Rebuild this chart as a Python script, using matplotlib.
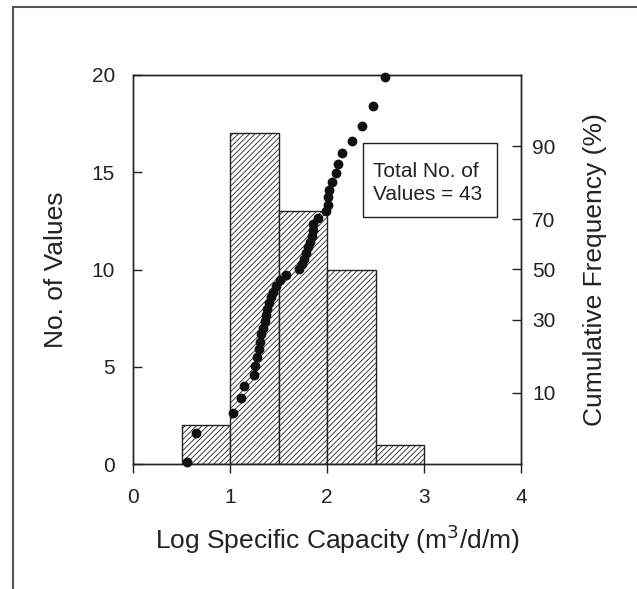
import numpy as np
import matplotlib
matplotlib.use("Agg")
import matplotlib.pyplot as plt
from matplotlib.patches import Rectangle
from statistics import NormalDist

# ---- data ----
bin_edges = [0.5, 1.0, 1.5, 2.0, 2.5]
counts = [2, 17, 13, 10, 1]
bin_width = 0.5

log_sc = [0.553, 0.65, 1.03, 1.11, 1.14, 1.25, 1.26, 1.275, 1.302, 1.313,
          1.323, 1.344, 1.361, 1.371, 1.385, 1.402, 1.419, 1.440, 1.474, 1.515,
          1.574, 1.715, 1.739, 1.763, 1.784, 1.808, 1.825, 1.842, 1.852, 1.859,
          1.911, 1.990, 2.007, 2.014, 2.024, 2.055, 2.090, 2.117, 2.151, 2.254,
          2.357, 2.478, 2.598]
cum_freq = [2.3, 4.5, 6.8, 9.1, 11.4, 13.6, 15.9, 18.2, 20.5, 22.7,
            25.0, 27.3, 29.5, 31.8, 34.1, 36.4, 38.6, 40.9, 43.2, 45.5,
            47.7, 50.0, 52.3, 54.5, 56.8, 59.1, 61.4, 63.6, 65.9, 68.2,
            70.5, 72.7, 75.0, 77.3, 79.5, 81.8, 84.1, 86.4, 88.6, 90.9,
            93.2, 95.5, 97.7]

x_ticks = [0, 1, 2, 3, 4]
y_ticks = [0, 5, 10, 15, 20]
cf_ticks = [10, 30, 50, 70, 90]

plt.rcParams['font.family'] = ['Liberation Sans', 'DejaVu Sans']
plt.rcParams['hatch.linewidth'] = 0.6
TXT = '#222222'

fig = plt.figure(figsize=(6.37, 5.89), dpi=100)
# outer frame lines (top and left)
fig.add_artist(plt.Line2D([13/637, 13/637], [0, 1 - 7/589], transform=fig.transFigure,
                          color='#555555', lw=1.5))
fig.add_artist(plt.Line2D([13/637, 1], [1 - 7/589, 1 - 7/589], transform=fig.transFigure,
                          color='#555555', lw=1.5))

ax = fig.add_axes([133/637, 1 - 464/589, (521 - 133)/637, (464 - 75)/589])
ax.bar(bin_edges, counts, width=bin_width, align='edge', facecolor='white',
       edgecolor='#222222', hatch='//////', linewidth=1.0, zorder=2)
ax.set_xlim(0, 4)
ax.set_ylim(0, 20)
ax.set_xticks(x_ticks)
ax.set_yticks(y_ticks)
ax.tick_params(axis='y', direction='in', length=6.5, width=1, pad=13,
               labelsize=15, colors=TXT)
ax.tick_params(axis='x', direction='out', length=6.5, width=1, pad=11,
               labelsize=15, colors=TXT)
for s in ax.spines.values():
    s.set_color('#222222')
    s.set_linewidth(1.0)
ax.set_xlabel('Log Specific Capacity (m$^3$/d/m)', fontsize=19, color=TXT, labelpad=11)
ax.xaxis.label.set_x(0.527)
ax.set_ylabel('No. of Values', fontsize=19, color=TXT, labelpad=17)

nd = NormalDist()
fwd = np.vectorize(lambda p: nd.inv_cdf(min(max(p / 100.0, 1e-9), 1 - 1e-9)),
                   otypes=[float])
inv = np.vectorize(lambda z: nd.cdf(z) * 100.0, otypes=[float])

ax2 = ax.twinx()
ax2.set_yscale('function', functions=(fwd, inv))
zlim = 2.02
ax2.set_ylim(nd.cdf(-zlim) * 100, nd.cdf(zlim) * 100)
ax2.set_yticks(cf_ticks)
ax2.set_yticklabels([str(t) for t in cf_ticks])
ax2.yaxis.set_minor_locator(matplotlib.ticker.NullLocator())
ax2.tick_params(axis='y', direction='in', length=6.5, width=1, pad=8,
                labelsize=15, colors=TXT)
ax2.scatter(log_sc, cum_freq, s=50, color='#111111', zorder=5, clip_on=False,
            linewidths=0)
ax2.set_ylabel('Cumulative Frequency (%)', fontsize=19, color=TXT, labelpad=20)
for s in ax2.spines.values():
    s.set_color('#222222')
    s.set_linewidth(1.0)

ax2.add_patch(Rectangle((0.592, 0.636), 0.345, 0.19, transform=ax2.transAxes,
                        facecolor='white', edgecolor='#222222', linewidth=1.0,
                        zorder=6))
ax2.text(0.618, 0.722, 'Total No. of\nValues = 43', transform=ax2.transAxes,
         fontsize=15, color=TXT, ha='left', va='center', linespacing=1.3,
         zorder=7)

fig.savefig('out.png', dpi=100)
